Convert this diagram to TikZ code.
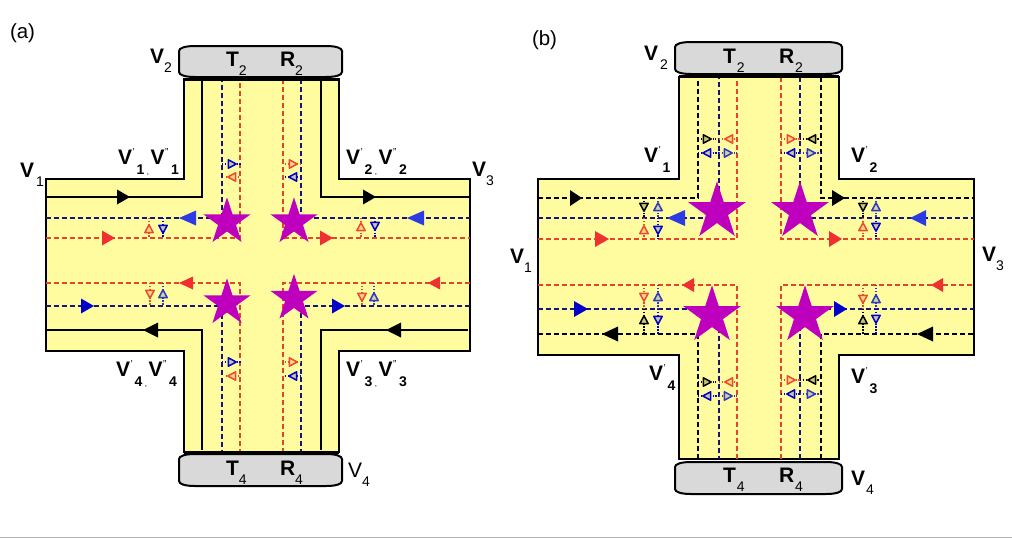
\documentclass[tikz,border=0pt]{standalone}
\usepackage{fontspec}
\setmainfont{Liberation Sans}
\usetikzlibrary{shapes.geometric}

\definecolor{road}{HTML}{FFFCA0}
\definecolor{padgrey}{HTML}{D9D9D9}
\definecolor{solidred}{HTML}{F03030}
\definecolor{softblue}{HTML}{2C3CE0}
\definecolor{deepblue}{HTML}{0000C8}
\definecolor{dashred}{HTML}{E2462A}
\definecolor{dashblue}{HTML}{14147E}
\definecolor{starpurple}{HTML}{BE00BE}
\definecolor{markred}{HTML}{EA4A30}
\definecolor{markblue}{HTML}{2E38C0}

\tikzset{
  roadshape/.style={fill=road,draw=black,line width=1.8pt,line join=miter},
  solidlane/.style={draw=black,line width=2.4pt},
  dashlane/.style={line width=2.2pt,dash pattern=on 5pt off 3pt},
  dashlanewide/.style={line width=2.7pt,dash pattern=on 5pt off 3pt},
  armedge/.style={draw=black,line width=3pt},
  padbox/.style={fill=padgrey,draw=black,line width=2pt},
  starsmall/.style={star,star points=5,star point ratio=2.618,fill=starpurple,inner sep=0pt,minimum size=49.5pt},
  starlarge/.style={star,star points=5,star point ratio=2.618,fill=starpurple,inner sep=0pt,minimum size=60.5pt},
  lab/.style={inner sep=0pt,outer sep=0pt,anchor=base west,font=\fontsize{21}{21}\selectfont},
  tickline/.style={line width=1.2pt,dash pattern=on 1.3pt off 1.6pt},
}

% large solid arrowhead on a horizontal lane: colour, base x, tip x, y, height
\newcommand\headtri[5]{\fill[#1] (#2,#4-#5/2) -- (#3,#4) -- (#2,#4+#5/2) -- cycle;}
% small hollow triangle at (x,y), pointing at the given angle
\newcommand\hollow[4]{\draw[#1,fill=#1!22!road,line width=1.5pt,line join=round,shift={(#2,#3)},rotate=#4] (4.2,0) -- (-3.6,4.2) -- (-3.6,-4.2) -- cycle;}
% dotted tick between lanes with its triangle: colour, x, y, span start, span end, angle
\newcommand\hmark[6]{\draw[#1,tickline] (#4,#3) -- (#5,#3); \hollow{#1}{#2}{#3}{#6}}
\newcommand\vmark[6]{\draw[#1,tickline] (#2,#4) -- (#2,#5); \hollow{#1}{#2}{#3}{#6}}

% base station pad with softly rounded ends
\newcommand\pad[4]{\draw[padbox] (#1,#2+5) .. controls (#1,#2+2) and (#1+6,#2) .. (#1+16,#2) -- (#3-16,#2)
  .. controls (#3-6,#2) and (#3,#2+2) .. (#3,#2+5) -- (#3,#4-5)
  .. controls (#3,#4-2) and (#3-6,#4) .. (#3-16,#4) -- (#1+16,#4)
  .. controls (#1+6,#4) and (#1,#4-2) .. (#1,#4-5) -- cycle;}

% label text helpers
\newcommand\subsm[1]{\raisebox{-9.5pt}{\fontsize{14}{14}\selectfont #1}}
\newcommand\subbf[1]{\raisebox{-10pt}{\fontsize{14}{14}\selectfont\bfseries #1}}
\newcommand\onep[1]{\textbf{V}\rlap{\raisebox{9pt}{\fontsize{10}{10}\selectfont\kern.5pt'}}\kern4.5pt\subbf{#1}}
\newcommand\twop[1]{\textbf{V}\rlap{\raisebox{9pt}{\fontsize{10}{10}\selectfont\kern.5pt"}}\kern6.5pt\subbf{#1}}
\newcommand\pairp[1]{\onep{#1}\kern2.5pt\raisebox{-10pt}{\fontsize{8}{8}\selectfont ,}\kern1.5pt\twop{#1}}
\newcommand\lbl[4]{\node[lab] (#1) at (#2,#3) {#4};}

\begin{document}
\begin{tikzpicture}[x=1pt,y=-1pt]
\useasboundingbox (0,0) rectangle (1012,539);
\fill[white] (0,0) rectangle (1012,539);
\draw[black!30,line width=1pt] (0,537.8) -- (1012,537.8);

% ---------- panel (a): shared lanes with solid outer lanes ----------
\draw[roadshape] (46,179) -- (184,179) -- (184,79) -- (339,79) -- (339,179) -- (470,179)
  -- (470,351) -- (339,351) -- (339,452) -- (184,452) -- (184,351) -- (46,351) -- cycle;

\draw[solidlane] (46,197) -- (202,197) -- (202,79);
\draw[solidlane] (321,79) -- (321,197) -- (470,197);
\draw[solidlane] (46,330) -- (202,330) -- (202,450);
\draw[solidlane] (321,450) -- (321,330) -- (468,330);

\draw[dashlane,dashblue] (46,218) -- (222,218) -- (222,79);
\draw[dashlane,dashred] (46,238) -- (240,238) -- (240,79);
\draw[dashlane,dashred] (283,79) -- (283,238) -- (470,238);
\draw[dashlane,dashblue] (301,79) -- (301,218) -- (470,218);
\draw[dashlane,dashred] (46,283) -- (240,283) -- (240,452);
\draw[dashlane,dashblue] (46,306) -- (222,306) -- (222,452);
\draw[dashlane,dashred] (470,283) -- (283,283) -- (283,452);
\draw[dashlane,dashblue] (470,306) -- (301,306) -- (301,452);

\node[starsmall] (aS1) at (227,222) {};
\node[starsmall] (aS2) at (294,222) {};
\node[starsmall] (aS3) at (227,303) {};
\node[starsmall] (aS4) at (294,298.5) {};

\headtri{black}{117}{130}{197}{15}
\headtri{black}{363}{376}{197}{15}
\headtri{black}{158}{143}{330}{15}
\headtri{black}{401}{386}{330}{15}
\headtri{softblue}{196}{179}{218}{15}
\headtri{softblue}{424}{407}{218}{15}
\headtri{solidred}{102}{115}{238}{15}
\headtri{solidred}{320}{333}{238}{15}
\headtri{solidred}{193}{179}{283}{13}
\headtri{solidred}{440}{428}{283}{13}
\headtri{deepblue}{81}{94}{306}{15}
\headtri{deepblue}{332}{345}{306}{15}

\hmark{deepblue}{232}{164}{222}{241}{0}
\hmark{markred}{232}{177}{226}{240}{180}
\hmark{markred}{293}{164}{285}{301}{0}
\hmark{deepblue}{293}{177}{285}{301}{180}
\vmark{markred}{149}{229}{218}{238}{90}
\vmark{deepblue}{163}{229}{218}{238}{270}
\vmark{markred}{361}{227}{218}{238}{90}
\vmark{deepblue}{375}{226}{218}{238}{270}
\vmark{markred}{150}{294}{283}{306}{270}
\vmark{markblue}{163}{294}{283}{306}{90}
\vmark{markred}{362}{297}{283}{306}{270}
\vmark{markblue}{374}{297}{283}{306}{90}
\hmark{deepblue}{232}{362}{222}{241}{0}
\hmark{markred}{232}{376}{226}{240}{180}
\hmark{markred}{293}{362}{285}{301}{0}
\hmark{deepblue}{293}{376}{285}{301}{180}

\draw[armedge] (184,79) -- (339,79);
\draw[armedge] (184,452) -- (339,452);
\pad{179}{46}{342}{77}
\pad{179}{454}{342}{486}

\lbl{aTitle}{10}{38}{\fontsize{20.5}{20.5}\selectfont (a)}
\lbl{aT2}{226}{66}{\textbf{T}\subsm{2}}
\lbl{aR2}{280}{66}{\textbf{R}\subsm{2}}
\lbl{aT4}{226}{475}{\textbf{T}\subsm{4}}
\lbl{aR4}{280}{475}{\textbf{R}\subsm{4}}
\lbl{aV2}{150}{63}{\textbf{V}\subsm{2}}
\lbl{aV1}{20}{177}{\textbf{V}\kern2pt\subsm{1}}
\lbl{aV3}{472}{176}{\textbf{V}\subsm{3}}
\lbl{aV4}{348}{477}{V\subsm{4}}
\lbl{aP1}{118}{164}{\pairp{1}}
\lbl{aP2}{346}{164}{\pairp{2}}
\lbl{aP4}{116}{376}{\pairp{4}}
\lbl{aP3}{346}{376}{\pairp{3}}

% ---------- panel (b): all lanes dashed ----------
\draw[roadshape] (538,179) -- (679,179) -- (679,77) -- (839,77) -- (839,179) -- (974,179)
  -- (974,355) -- (839,355) -- (839,459) -- (679,459) -- (679,355) -- (538,355) -- cycle;

\draw[dashlanewide,black] (538,198) -- (698,198) -- (698,77);
\draw[dashlanewide,black] (821,77) -- (821,198) -- (974,198);
\draw[dashlanewide,black] (538,334) -- (698,334) -- (698,459);
\draw[dashlanewide,black] (821,459) -- (821,334) -- (974,334);
\draw[dashlanewide,dashblue] (538,218) -- (719,218) -- (719,77);
\draw[dashlanewide,dashblue] (800,77) -- (800,218) -- (974,218);
\draw[dashlanewide,dashblue] (538,309) -- (719,309) -- (719,459);
\draw[dashlanewide,dashblue] (800,459) -- (800,309) -- (974,309);
\draw[dashlanewide,dashred] (538,239) -- (737,239) -- (737,77);
\draw[dashlanewide,dashred] (781,77) -- (781,239) -- (974,239);
\draw[dashlanewide,dashred] (538,285) -- (737,285) -- (737,459);
\draw[dashlanewide,dashred] (781,459) -- (781,285) -- (974,285);

\node[starlarge] (bS1) at (717,211.5) {};
\node[starlarge] (bS2) at (800,211.5) {};
\node[starlarge] (bS3) at (712,315.5) {};
\node[starlarge] (bS4) at (805,315.5) {};

\headtri{black}{570}{582}{198}{16}
\headtri{black}{832}{845}{198}{16}
\headtri{black}{618}{602}{334}{15}
\headtri{black}{933}{917}{334}{15}
\headtri{softblue}{685}{667}{218}{16}
\headtri{softblue}{926}{910}{218}{16}
\headtri{solidred}{595}{609}{239}{16}
\headtri{solidred}{829}{842}{239}{16}
\headtri{solidred}{694}{682}{285}{14}
\headtri{solidred}{943}{931}{285}{14}
\headtri{deepblue}{574}{588}{309}{16}
\headtri{deepblue}{834}{847}{309}{16}

\hmark{black}{707}{139}{698}{716}{0}
\hmark{markred}{729}{139}{719}{734}{180}
\hmark{deepblue}{707}{153}{698}{719}{180}
\hmark{markblue}{728}{153}{719}{737}{0}
\hmark{markred}{791}{139}{781}{800}{0}
\hmark{black}{812}{139}{800}{820}{180}
\hmark{deepblue}{791}{153}{781}{800}{180}
\hmark{markblue}{811}{153}{800}{821}{0}
\vmark{black}{644}{207}{198}{218}{270}
\vmark{markred}{644}{230}{218}{239}{90}
\vmark{markblue}{658}{207}{198}{218}{90}
\vmark{deepblue}{658}{230}{218}{239}{270}
\vmark{black}{863}{207}{198}{218}{270}
\vmark{markred}{863}{227}{218}{239}{90}
\vmark{markblue}{876}{207}{198}{218}{90}
\vmark{deepblue}{876}{227}{218}{239}{270}
\vmark{markred}{644}{297}{285}{309}{270}
\vmark{black}{644}{320}{309}{334}{90}
\vmark{markblue}{658}{297}{285}{309}{90}
\vmark{deepblue}{658}{320}{309}{334}{270}
\vmark{markred}{863}{299}{285}{309}{270}
\vmark{black}{863}{320}{309}{334}{90}
\vmark{markblue}{876}{299}{285}{309}{90}
\vmark{deepblue}{876}{319}{309}{334}{270}
\hmark{black}{707}{382}{698}{716}{0}
\hmark{markred}{729}{382}{719}{734}{180}
\hmark{deepblue}{707}{396}{698}{719}{180}
\hmark{markblue}{728}{396}{719}{737}{0}
\hmark{markred}{791}{380}{781}{800}{0}
\hmark{black}{812}{380}{800}{820}{180}
\hmark{deepblue}{791}{394}{781}{800}{180}
\hmark{markblue}{811}{394}{800}{821}{0}

\draw[armedge] (679,76.5) -- (839,76.5);
\pad{675}{42}{842}{74}
\pad{675}{462}{842}{494}

\lbl{bTitle}{532}{45}{\fontsize{20.5}{20.5}\selectfont (b)}
\lbl{bT2}{723}{63}{\textbf{T}\kern1pt\subsm{2}}
\lbl{bR2}{779}{63}{\textbf{R}\kern1pt\subsm{2}}
\lbl{bT4}{723}{482}{\textbf{T}\kern1pt\subsm{4}}
\lbl{bR4}{779}{482}{\textbf{R}\kern1pt\subsm{4}}
\lbl{bV2}{644}{60}{\textbf{V}\kern2pt\subsm{2}}
\lbl{bV1}{510}{263}{\textbf{V}\subsm{1}}
\lbl{bV3}{982}{261}{\textbf{V}\subsm{3}}
\lbl{bV4}{851}{485}{\textbf{V}\kern1pt\subsm{4}}
\lbl{bP1}{644}{162}{\onep{1}}
\lbl{bP2}{851}{162}{\onep{2}}
\lbl{bP4}{649}{380}{\onep{4}}
\lbl{bP3}{851}{383}{\onep{3}}
\end{tikzpicture}
\end{document}
